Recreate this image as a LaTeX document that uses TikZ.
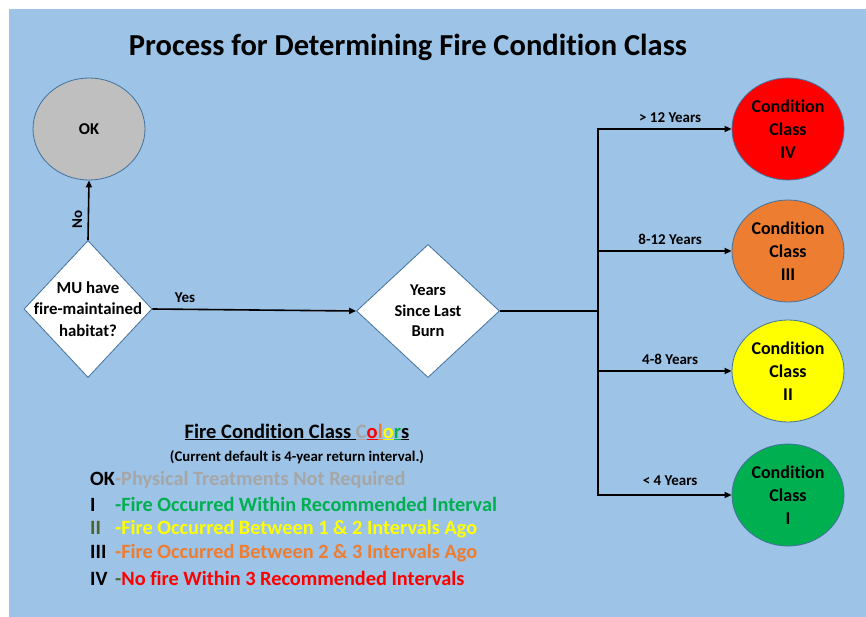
\documentclass[tikz,border=0pt]{standalone}
\usepackage{fontspec}
\setmainfont{Carlito}[Ligatures={TeX,NoCommon}, RawFeature={-calt;-liga}]
\usetikzlibrary{arrows.meta,shapes.geometric}

\definecolor{bgblue}{HTML}{9DC3E6}
\definecolor{edgeblue}{HTML}{41719C}
\definecolor{ccred}{HTML}{FF0000}
\definecolor{ccorange}{HTML}{ED7D31}
\definecolor{ccyellow}{HTML}{FFFF00}
\definecolor{ccgreen}{HTML}{00B050}
\definecolor{ccgray}{HTML}{BFBFBF}
\definecolor{txtgray}{HTML}{A6A6A6}
\definecolor{darkolive}{HTML}{4F6228}

\begin{document}
\begin{tikzpicture}[x=1pt, y=-1pt, every node/.style={font=\bfseries}, cls/.style={ellipse, draw=edgeblue, line width=0.8pt, minimum width=112pt, minimum height=102pt, inner sep=0pt, align=center, font=\bfseries\fontsize{18}{23}\selectfont}, dec/.style={diamond, draw=edgeblue, line width=0.8pt, fill=white, inner sep=0pt}, arr/.style={-{Triangle[length=7pt,width=6pt]}, line width=1.6pt}, lbl/.style={font=\bfseries\fontsize{15}{17}\selectfont}, key/.style={anchor=west, inner sep=0pt, font=\bfseries\fontsize{20.3}{22}\selectfont}]
\useasboundingbox (0,0) rectangle (866,617);
\fill[bgblue] (9,9) rectangle (866,617);
\node[font=\bfseries\fontsize{30.5}{34}\selectfont] (title) at (408,47) {Process for Determining Fire Condition Class};
% decisions
\node[dec, minimum width=128pt, minimum height=137pt] (mu) at (88,309) {};
\node[align=center, font=\bfseries\fontsize{16.8}{21.5}\selectfont] (mutext) at (mu) {MU have\\fire-maintained\\habitat?};
\node[dec, minimum width=143pt, minimum height=133pt] (burn) at (428,311) {};
\node[align=center, font=\bfseries\fontsize{16.5}{20.5}\selectfont] (burntext) at (burn) {Years\\Since Last\\Burn};
\node[cls, fill=ccgray, font=\bfseries\fontsize{16.5}{18}\selectfont] (ok) at (89,129) {OK};
% condition classes
\node[cls, fill=ccred] (cc4) at (788,129) {Condition\\Class\\IV};
\node[cls, fill=ccorange] (cc3) at (788,251) {Condition\\Class\\III};
\node[cls, fill=ccyellow] (cc2) at (788,371) {Condition\\Class\\II};
\node[cls, fill=ccgreen] (cc1) at (788,495) {Condition\\Class\\I};
\coordinate (split) at (598,311);
\draw[arr] (mu.north) -- node[lbl, pos=0.35, rotate=90, above=2pt] {No} (ok.south);
\draw[arr] (mu.east) -- node[lbl, pos=0.16, above=3pt] {Yes} (burn.west);
\draw[line width=1.6pt] (burn.east) -- (split);
\draw[arr] (split) |- node[lbl, pos=0.77, above=2pt] {> 12 Years} (cc4);
\draw[arr] (split) |- node[lbl, pos=0.77, above=2pt] {8-12 Years} (cc3);
\draw[arr] (split) |- node[lbl, pos=0.77, above=2pt] {4-8 Years} (cc2);
\draw[arr] (split) |- node[lbl, pos=0.77, above=5pt] {< 4 Years} (cc1);
% legend
\node[font=\bfseries\fontsize{20.5}{22}\selectfont] (keyhead) at (297,432) {\underline{Fire Condition Class }\textcolor{txtgray}{\underline{C}}\textcolor{ccred}{\underline{o}}\textcolor{ccorange}{\underline{l}}\textcolor{ccyellow}{\underline{o}}\textcolor{ccgreen}{\underline{r}}\underline{s}};
\node[font=\bfseries\fontsize{14.8}{16}\selectfont] (keynote) at (297,457) {(Current default is 4-year return interval.)};
\node[key] (keyok) at (90,480) {OK\textcolor{txtgray}{-Physical Treatments Not Required}};
\node[key] (key1) at (90,504) {\makebox[25pt][l]{I}\textcolor{ccgreen}{-Fire Occurred Within Recommended Interval}};
\node[key] (key2) at (90,529) {\makebox[25pt][l]{\textcolor{darkolive}{II}}\textcolor{ccyellow}{-Fire Occurred Between 1 \& 2 Intervals Ago}};
\node[key] (key3) at (90,553) {\makebox[25pt][l]{III}\textcolor{ccorange}{-Fire Occurred Between 2 \& 3 Intervals Ago}};
\node[key] (key4) at (90,578) {\makebox[25pt][l]{IV}\textcolor{darkolive}{-}\textcolor{ccred}{No fire Within 3 Recommended Intervals}};
\end{tikzpicture}
\end{document}
